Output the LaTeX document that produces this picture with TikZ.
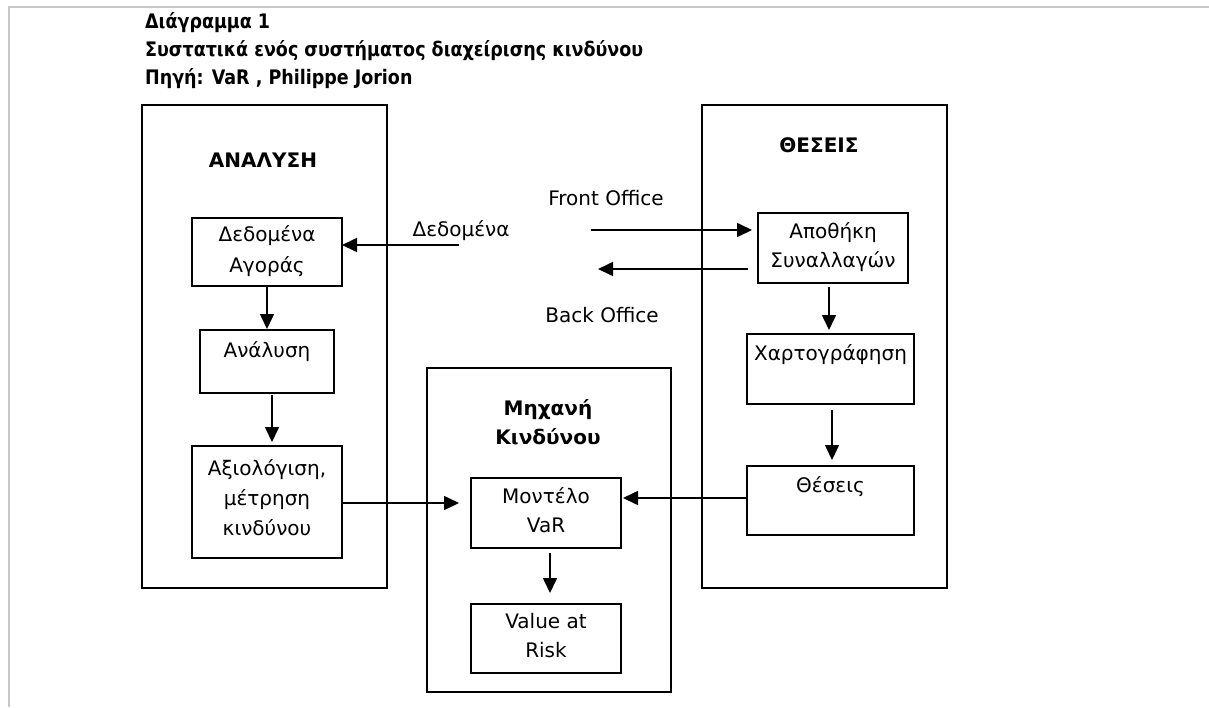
\documentclass[tikz,border=0pt]{standalone}
\usepackage{fontspec}
\setmainfont{DejaVu Sans}
\newfontfamily\ttlfont{DejaVu Sans}[FakeStretch=0.875]
\usetikzlibrary{arrows.meta}
\begin{document}
\begin{tikzpicture}[x=1pt,y=-1pt,
  box/.style={draw=black, line width=1.6pt, inner sep=0pt, outer sep=0pt},
  arr/.style={draw=black, line width=1.6pt, -{Triangle[length=15pt,width=14pt]}},
  txt/.style={font=\fontsize{20}{29}\selectfont, align=center, inner sep=0pt, anchor=base},
  head/.style={font=\bfseries\fontsize{20}{29}\selectfont, align=center, inner sep=0pt, anchor=base},
  ttl/.style={font=\ttlfont\bfseries\fontsize{20}{28}\selectfont, inner sep=0pt, anchor=base west}
]
\useasboundingbox (0,0) rectangle (1209,707);
% page frame
\draw[draw=black!22, line width=2.5pt] (9,707) -- (9,7) -- (1209,7);

% title
\node[ttl] (t1) at (145,28) {Διάγραμμα 1};
\node[ttl] (t2) at (145,56) {Συστατικά ενός συστήματος διαχείρισης κινδύνου};
\node[ttl] (t3) at (145,84) {Πηγή: VaR , Philippe Jorion};

% outer boxes
\node[box, minimum width=245pt, minimum height=483pt] (anBox) at (264.5,346.5) {};
\node[box, minimum width=245pt, minimum height=483pt] (thBox) at (824.5,346.5) {};
\node[box, minimum width=244pt, minimum height=324pt] (mkBox) at (549,530) {};

\node[head] (anH) at (263,167) {ΑΝΑΛΥΣΗ};
\node[head] (thH) at (819,152) {ΘΕΣΕΙΣ};
\node[head] (mkH) at (548,444) {Μηχανή\\Κινδύνου};

% inner boxes
\node[box, minimum width=150pt, minimum height=68pt] (dA) at (267,252) {};
\node[box, minimum width=134pt, minimum height=63pt] (an) at (267,361.5) {};
\node[box, minimum width=150pt, minimum height=112pt] (ax) at (267,502) {};
\node[box, minimum width=150pt, minimum height=70pt] (ap) at (833,248) {};
\node[box, minimum width=167pt, minimum height=70pt] (xa) at (830.5,369) {};
\node[box, minimum width=167pt, minimum height=69pt] (th) at (830.5,500.5) {};
\node[box, minimum width=150pt, minimum height=70pt] (mo) at (546,513) {};
\node[box, minimum width=150pt, minimum height=69pt] (va) at (546,638.5) {};

% texts in boxes (base = baseline of the last line)
\node[txt, font=\fontsize{20}{31}\selectfont] (dAt) at (267,272) {Δεδομένα\\Αγοράς};
\node[txt] (ant) at (267,357) {Ανάλυση};
\node[txt, font=\fontsize{20}{30}\selectfont] (axt) at (267,535) {Αξιολόγιση,\\μέτρηση\\κινδύνου};
\node[txt] (apt) at (833,267) {Αποθήκη\\Συναλλαγών};
\node[txt] (xat) at (830.5,360) {Χαρτογράφηση};
\node[txt] (tht) at (830.5,492) {Θέσεις};
\node[txt] (mot) at (546,532) {Μοντέλο\\VaR};
\node[txt] (vat) at (546,657) {Value at\\Risk};

% free labels
\node[txt] (ddl) at (461,236) {Δεδομένα};
\node[txt] (fol) at (606,205) {Front Office};
\node[txt] (bol) at (602,322) {Back Office};

% connectors
\coordinate (din) at (459,245);
\coordinate (fo) at (591,230);
\coordinate (bo) at (598,269);
\draw[arr] (din) -- (din -| dA.east);
\draw[arr, shorten <=1pt, shorten >=1pt] (dA.south) -- (an.north);
\draw[arr, shorten <=2pt, shorten >=4pt] ([xshift=5pt]an.south) -- ([xshift=5pt]an.south |- ax.north);
\draw[arr, shorten >=12pt] (ax.east |- 0,503) -- (mo.west |- 0,503);
\draw[arr, shorten >=6pt] (fo) -- (fo -| ap.west);
\draw[arr, shorten <=10pt] (bo -| ap.west) -- (bo);
\draw[arr, shorten <=4pt, shorten >=4pt] (829,0 |- ap.south) -- (829,0 |- xa.north);
\draw[arr, shorten <=6pt, shorten >=6pt] (832,0 |- xa.south) -- (832,0 |- th.north);
\draw[arr, shorten >=2pt] (th.west |- 0,498) -- (mo.east |- 0,498);
\draw[arr, shorten <=5pt, shorten >=11pt] (550,0 |- mo.south) -- (550,0 |- va.north);
\end{tikzpicture}
\end{document}
